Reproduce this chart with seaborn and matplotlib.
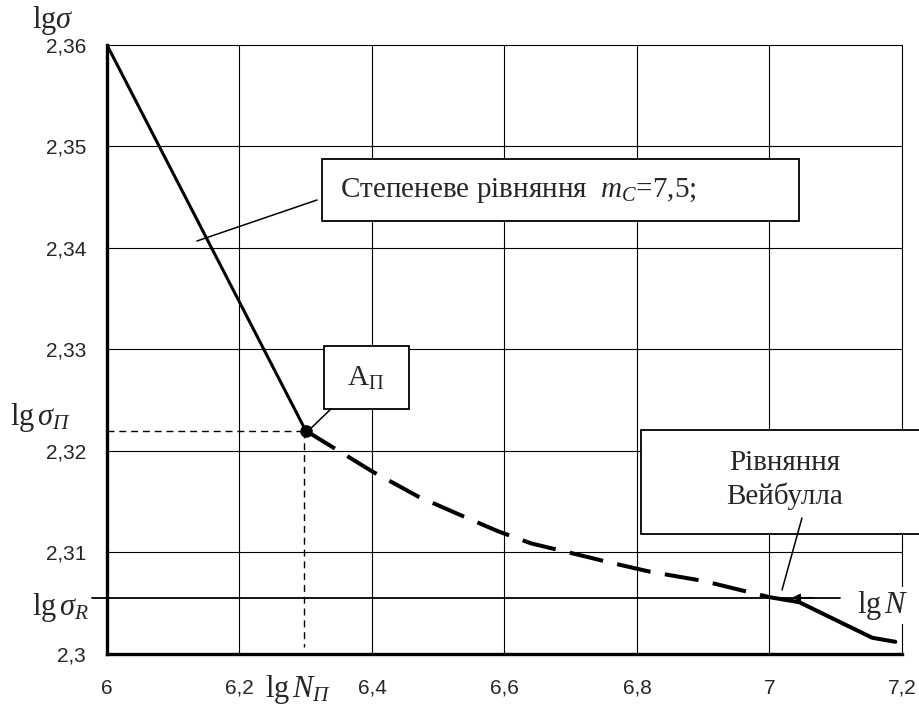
import matplotlib
matplotlib.use('Agg')
import matplotlib.pyplot as plt
import seaborn as sns
from matplotlib.patches import Rectangle

# степенева гілка (до точки A_П)
power_lgN = [6.0, 6.30]
power_lgS = [2.36, 2.3220]

# гілка Вейбулла, пунктирна частина
weib_dash_lgN = [6.30, 6.35, 6.40, 6.47, 6.54, 6.59, 6.64, 6.71, 6.76, 6.82, 6.90, 7.00]
weib_dash_lgS = [2.3220, 2.3200, 2.3180, 2.3155, 2.3135, 2.3121, 2.3109, 2.3098, 2.3090, 2.3081, 2.3072, 2.3056]

# гілка Вейбулла, суцільна частина
weib_solid_lgN = [7.00, 7.045, 7.155, 7.19]
weib_solid_lgS = [2.3056, 2.3051, 2.3016, 2.3012]

# точка перелому A_П і рівень lg sigma_R
point_lgN = 6.30
point_lgS = 2.3220
lg_sigma_R = 2.30555

x_ticks = [6.0, 6.2, 6.4, 6.6, 6.8, 7.0, 7.2]
x_labels = ["6", "6,2", "6,4", "6,6", "6,8", "7", "7,2"]
y_ticks = [2.30, 2.31, 2.32, 2.33, 2.34, 2.35, 2.36]
y_labels = ["2,3", "2,31", "2,32", "2,33", "2,34", "2,35", "2,36"]

sns.set_style("white")
plt.rcParams['font.family'] = ['Liberation Sans', 'DejaVu Sans']
plt.rcParams['mathtext.fontset'] = 'custom'
plt.rcParams['mathtext.rm'] = 'Liberation Serif'
plt.rcParams['mathtext.it'] = 'Liberation Serif:italic'
plt.rcParams['mathtext.bf'] = 'Liberation Serif:bold'

W, H = 920, 709
fig = plt.figure(figsize=(W / 100, H / 100), dpi=100)
ax = fig.add_axes([107 / W, 1 - 654 / H, (902 - 107) / W, (654 - 45) / H])

ax.set_xlim(6.0, 7.2)
ax.set_ylim(2.30, 2.36)
ax.set_xticks(x_ticks)
ax.set_xticklabels(x_labels)
ax.set_yticks(y_ticks)
ax.set_yticklabels(y_labels)
ax.tick_params(axis='both', labelsize=15, width=2, length=7, color='black', direction='out')
ax.tick_params(axis='x', pad=11)
ax.tick_params(axis='y', pad=8)
ax.grid(True, color='black', lw=0.8)
for gl in ax.get_xgridlines() + ax.get_ygridlines():
    gl.set_clip_on(False)
for s in ['top', 'right']:
    ax.spines[s].set_visible(False)
for s in ['left', 'bottom']:
    ax.spines[s].set_linewidth(2.4)
    ax.spines[s].set_color('black')
    ax.spines[s].set_zorder(5)

# криві
sns.lineplot(x=power_lgN, y=power_lgS, sort=False, color='black', lw=2.2, ax=ax, zorder=4)
sns.lineplot(x=weib_dash_lgN, y=weib_dash_lgS, sort=False, color='black', lw=2.9,
             linestyle=(0, (8.5, 3.6)), ax=ax, zorder=4)
sns.lineplot(x=weib_solid_lgN, y=weib_solid_lgS, sort=False, color='black', lw=2.9, ax=ax, zorder=4)

# допоміжні лінії
ax.plot([6.0, point_lgN], [point_lgS, point_lgS], color='black', lw=1, linestyle=(0, (5, 3.5)), zorder=3)
ax.plot([point_lgN - 0.003, point_lgN - 0.003], [point_lgS, 2.3007], color='black', lw=1,
        linestyle=(0, (5, 3.5)), zorder=3)
ax.plot([5.977, 7.106], [lg_sigma_R, lg_sigma_R], color='black', lw=1.3, clip_on=False, zorder=3)
ax.annotate('', xy=(7.03, lg_sigma_R), xytext=(7.07, lg_sigma_R),
            arrowprops=dict(arrowstyle='-|>', color='black', lw=1, mutation_scale=12), zorder=4)
ax.scatter([point_lgN], [point_lgS], s=65, color='black', zorder=6)

serif = 'Liberation Serif'

# рамка "Степеневе рівняння"
ax.add_patch(Rectangle((6.3245, 2.34266), 7.0445 - 6.3245, 2.34877 - 2.34266,
                       facecolor='white', edgecolor='black', lw=1.3, zorder=6))
ax.text(6.3517, 2.34571, "Степеневе рівняння  $m_C$=7,5;", fontfamily=serif, fontsize=21,
        va='center', ha='left', zorder=7)
ax.plot([6.317, 6.1358], [2.34473, 2.34069], color='black', lw=1.1, zorder=6)

# рамка A_П
ax.add_patch(Rectangle((6.3275, 2.32414), 6.4558 - 6.3275, 2.33034 - 2.32414,
                       facecolor='white', edgecolor='black', lw=1.3, zorder=6))
ax.text(6.391, 2.32719, "А$_\\mathrm{П}$", fontfamily=serif, fontsize=21,
        va='center', ha='center', zorder=7)
ax.plot([6.338, 6.302], [2.32414, 2.32187], color='black', lw=1.1, zorder=6)

# рамка "Рівняння Вейбулла"
ax.add_patch(Rectangle((6.806, 2.31182), 7.26 - 6.806, 2.32207 - 2.31182,
                       facecolor='white', edgecolor='black', lw=1.3, zorder=6, clip_on=False))
ax.text(7.0234, 2.31715, "Рівняння\nВейбулла", fontfamily=serif, fontsize=21,
        va='center', ha='center', linespacing=1.27, zorder=7)
ax.plot([7.049, 7.0189], [2.3134, 2.30631], color='black', lw=1.1, zorder=7)

# підписи осей
fig.text(32 / W, 1 - 28 / H, "lg$\\sigma$", fontfamily=serif, fontsize=22, va='baseline')
fig.text(10 / W, 1 - 425 / H, "lg$\\,\\sigma_П$", fontfamily=serif, fontsize=22, va='baseline')
fig.text(32 / W, 1 - 615 / H, "lg$\\,\\sigma_R$", fontfamily=serif, fontsize=22, va='baseline')
fig.text(265 / W, 1 - 697 / H, "lg$\\,N_П$", fontfamily=serif, fontsize=22, va='baseline')
fig.text(857 / W, 1 - 613 / H, "lg$\\,N$", fontfamily=serif, fontsize=22, va='baseline', zorder=8,
         bbox=dict(facecolor='white', edgecolor='none', pad=1))

fig.savefig('out.png', dpi=100, facecolor='white')
